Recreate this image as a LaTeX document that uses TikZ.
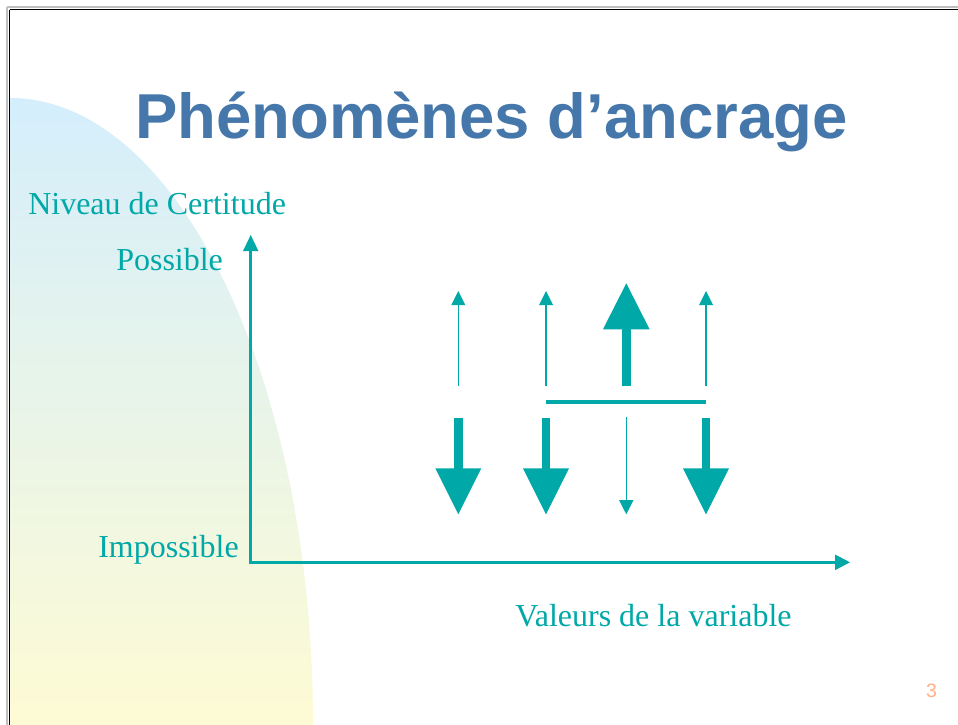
\documentclass[tikz,border=0pt]{standalone}
\usepackage{fontspec}
\setmainfont{Liberation Serif}
\newfontfamily\titlefont{Liberation Sans}
\definecolor{teal1}{RGB}{0,168,168}
\definecolor{titleblue}{RGB}{69,119,170}
\definecolor{pagenum}{RGB}{255,176,138}
\definecolor{topblue}{RGB}{212,238,252}
\definecolor{botyellow}{RGB}{254,251,212}
\tikzset{
  lbl/.style={text=teal1, inner sep=0pt, font=\fontsize{24}{28}\selectfont},
  tealfill/.style={fill=teal1, draw=none},
  thinline/.style={draw=teal1, line width=1pt},
  axisline/.style={draw=teal1, line width=2.5pt},
}
\begin{document}
\begin{tikzpicture}[x=0.75pt,y=-0.75pt]
\useasboundingbox (0,0) rectangle (958,725);
\fill[white] (0,0) rectangle (958,725);
% background shape
\shade[top color=topblue, bottom color=botyellow, draw=none]
  (10,725) -- (10,98) arc[start angle=-90, end angle=0, x radius=303, y radius=627] -- cycle;
% frame
\draw[black!25, line width=0.8pt] (7,7) -- (958,7);
\draw[black!25, line width=0.8pt] (7,7) -- (7,725);
\draw[black, line width=1.1pt] (9.5,9.5) -- (958,9.5);
\draw[black, line width=1.1pt] (9.5,9.5) -- (9.5,725);
% title
\node[text=titleblue, anchor=base, inner sep=0pt, font=\titlefont\bfseries\fontsize{47.6}{56}\selectfont] (title) at (491.5,138) {Phénomènes d’ancrage};
% labels
\node[lbl, anchor=base west] (niveau) at (28,214) {Niveau de Certitude};
\node[lbl, anchor=base west] (possible) at (116,270) {Possible};
\node[lbl, anchor=base east] (impossible) at (239,557) {Impossible};
\node[lbl, anchor=base west] (valeurs) at (515,626) {Valeurs de la variable};
\node[text=pagenum, anchor=base, inner sep=0pt, font=\titlefont\fontsize{14.6}{16}\selectfont] (pnum) at (931.5,697) {3};
% axes
\coordinate (O) at (250.7,562.3);
\coordinate (Ytop) at (250.7,251);
\coordinate (Xend) at (835.5,562.3);
\draw[axisline] (Ytop) -- (O) -- (Xend);
\fill[tealfill] (243,251) -- (258.4,251) -- (250.7,235) -- cycle;
\fill[tealfill] (835,554.5) -- (835,570.2) -- (850,562.3) -- cycle;
% thin up arrows
\foreach \c in {458.3,546,706}{
  \draw[thinline] (\c,386) -- (\c,304);
  \fill[tealfill] (\c-7,305) -- (\c+7,305) -- (\c,291) -- cycle;
}
% big up arrow
\fill[tealfill] (622.1,386) rectangle (630.5,328.5);
\fill[tealfill] (603,329.3) -- (649.6,329.3) -- (626.3,283.3) -- cycle;
% bar
\coordinate (barL) at (546,402);
\coordinate (barR) at (706,402);
\draw[draw=teal1, line width=3pt] (barL) -- (barR);
% big down arrows
\foreach \c in {458.3,546,706}{
  \fill[tealfill] (\c-4.2,418.3) rectangle (\c+4.2,469);
  \fill[tealfill] (\c-23,468.3) -- (\c+23,468.3) -- (\c,514.3) -- cycle;
}
% thin down arrow
\draw[thinline] (626.3,417.3) -- (626.3,501);
\fill[tealfill] (619,500) -- (633.6,500) -- (626.3,514.3) -- cycle;
\end{tikzpicture}
\end{document}
